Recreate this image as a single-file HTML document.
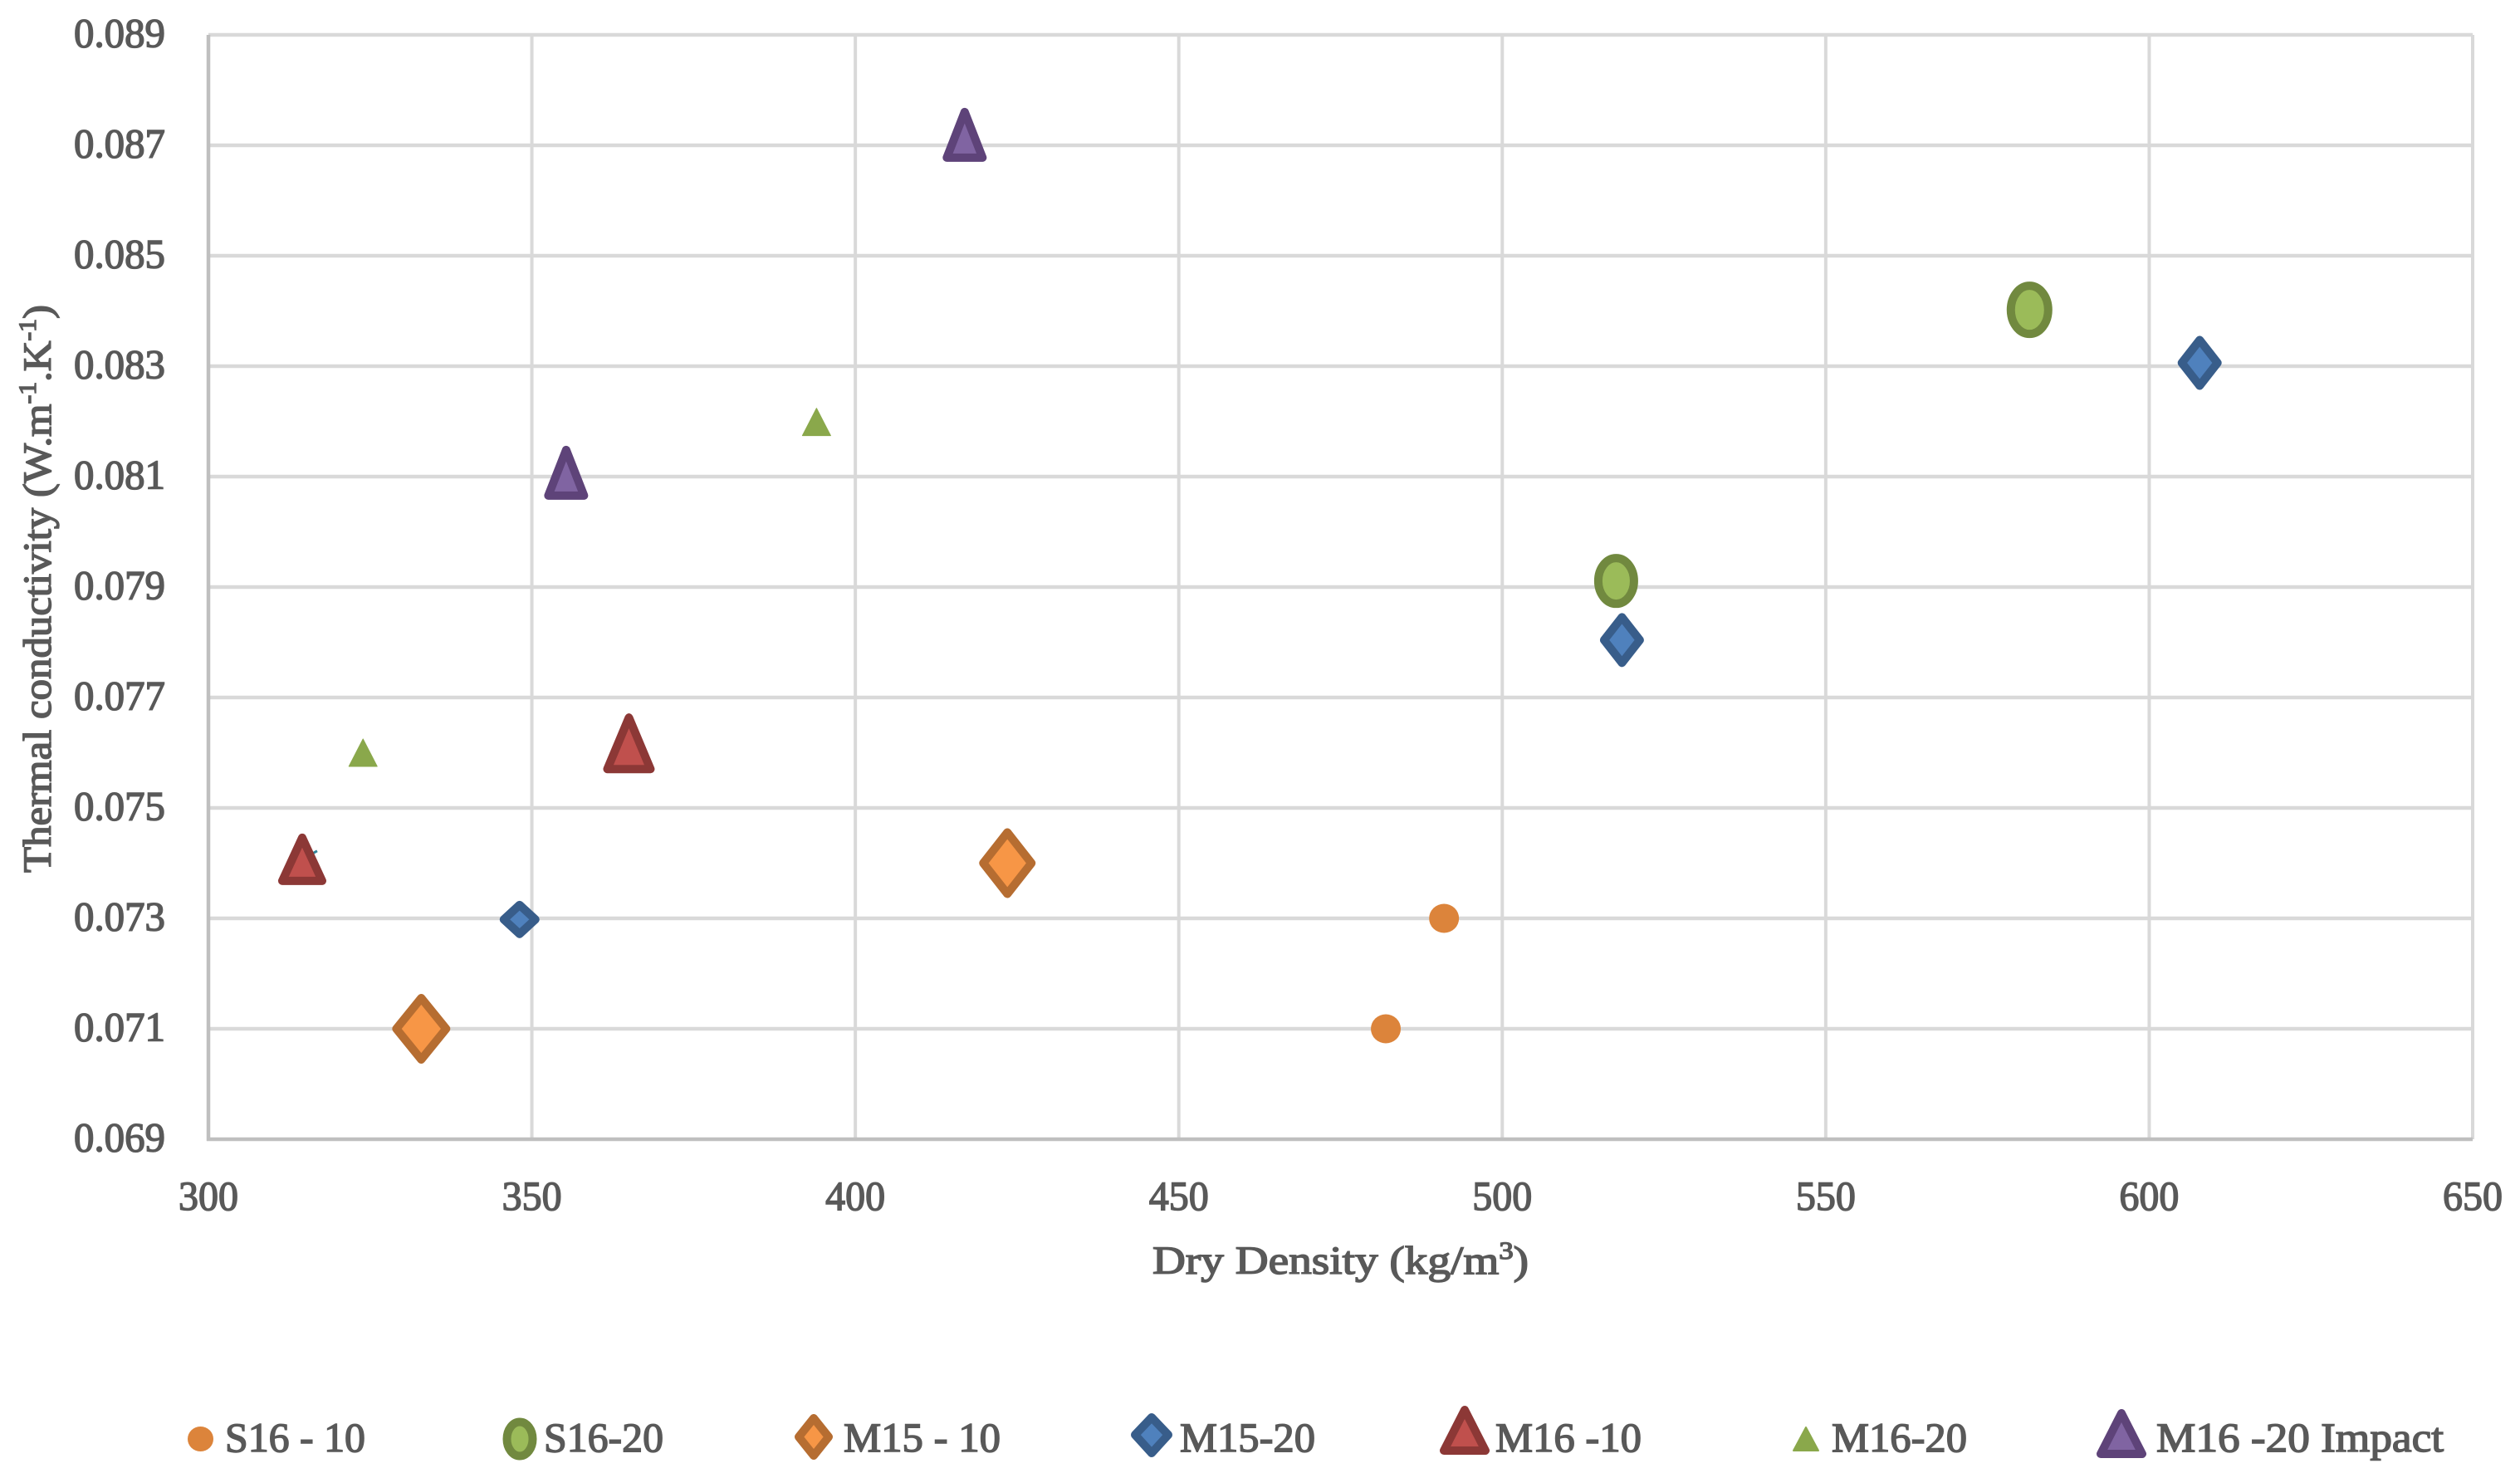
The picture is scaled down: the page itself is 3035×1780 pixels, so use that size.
<!DOCTYPE html>
<html lang="en">
<head>
<meta charset="utf-8">
<title>Thermal conductivity vs dry density</title>
<style>
html,body{margin:0;padding:0;background:#fff;width:3035px;height:1780px;overflow:hidden}
svg{display:block}
text{font-family:"Liberation Serif","DejaVu Serif",serif;fill:#595959;stroke:#595959;stroke-width:1.5px}
</style>
</head>
<body>
<svg id="chart" xmlns="http://www.w3.org/2000/svg" width="3035" height="1780" viewBox="0 0 3035 1780">
  <rect x="0" y="0" width="3035" height="1780" fill="#ffffff"/>
  <g id="grid"></g>
  <g id="axes"></g>
  <g id="ticks"></g>
  <text x="1388" y="1534" font-size="48" textLength="453" lengthAdjust="spacingAndGlyphs">Dry Density (kg/m<tspan font-size="30" dy="-18">3</tspan><tspan dy="18">)</tspan></text>
  <text transform="translate(61 1051) rotate(-90)" x="0" y="0" font-size="48" textLength="684" lengthAdjust="spacingAndGlyphs">Thermal conductivity (W.m<tspan font-size="30" dy="-18">-1</tspan><tspan dy="18">.K</tspan><tspan font-size="30" dy="-18">-1</tspan><tspan dy="18">)</tspan></text>
  <g id="marks"></g>
  <g id="legend">
    <text x="271" y="1748" font-size="50" textLength="169" lengthAdjust="spacingAndGlyphs">S16 - 10</text>
    <text x="655" y="1748" font-size="50" textLength="144" lengthAdjust="spacingAndGlyphs">S16-20</text>
    <text x="1016" y="1748" font-size="50" textLength="189" lengthAdjust="spacingAndGlyphs">M15 - 10</text>
    <text x="1421" y="1748" font-size="50" textLength="163" lengthAdjust="spacingAndGlyphs">M15-20</text>
    <text x="1801" y="1748" font-size="50" textLength="176" lengthAdjust="spacingAndGlyphs">M16 -10</text>
    <text x="2206" y="1748" font-size="50" textLength="163" lengthAdjust="spacingAndGlyphs">M16-20</text>
    <text x="2597" y="1748" font-size="50" textLength="346" lengthAdjust="spacingAndGlyphs">M16 -20 Impact</text>
    <ellipse cx="241.5" cy="1733" rx="15.5" ry="15" fill="#dc843b"/>
    <ellipse cx="626" cy="1733" rx="15.5" ry="20.5" fill="#9bbb59" stroke="#71893f" stroke-width="10"/>
    <polygon points="980,1708 998,1730.5 980,1753 962,1730.5" fill="#f79646" stroke="#b66d31" stroke-width="10" stroke-linejoin="round"/>
    <polygon points="1387,1707 1407,1728 1387,1750 1367,1728" fill="#4f81bd" stroke="#385d8a" stroke-width="10" stroke-linejoin="round"/>
    <polygon points="1764,1698 1789,1747 1739,1747" fill="#c0504d" stroke="#8c3836" stroke-width="10" stroke-linejoin="round"/>
    <polygon points="2175,1719 2190,1747 2160,1747" fill="#8aa84b" stroke="#8aa84b" stroke-width="2" stroke-linejoin="round"/>
    <polygon points="2555,1702 2580,1751 2530,1751" fill="#8064a2" stroke="#5e4379" stroke-width="10" stroke-linejoin="round"/>
  </g>
</svg>
<script>
// Axis tick values
const xTickValues = [300, 350, 400, 450, 500, 550, 600, 650];
const yTickValues = [0.069, 0.071, 0.073, 0.075, 0.077, 0.079, 0.081, 0.083, 0.085, 0.087, 0.089];

// Series values: dry density (kg/m3) and thermal conductivity (W/m/K)
const s1610Density = [482, 491];
const s1610Conductivity = [0.071, 0.073];
const s1620Density = [517.6, 581.5];
const s1620Conductivity = [0.07911, 0.08402];
const m1510Density = [332.9, 423.5];
const m1510Conductivity = [0.071, 0.074];
const m1520Density = [348.1, 518.5, 607.8];
const m1520Conductivity = [0.07298, 0.07804, 0.08306];
const m1610Density = [314.5, 365];
const m1610Conductivity = [0.07407, 0.07617];
const m1620Density = [323.9, 394];
const m1620Conductivity = [0.076, 0.08199];
const m1620ImpactDensity = [355.3, 416.9];
const m1620ImpactConductivity = [0.08107, 0.08719];

const SVGNS = 'http://www.w3.org/2000/svg';
const plotLeft = 251, plotRight = 2978, plotTop = 42, plotBottom = 1372;
const xMin = 300, xMax = 650, yMin = 0.069, yMax = 0.089;

function xScale(v) { return plotLeft + (v - xMin) / (xMax - xMin) * (plotRight - plotLeft); }
function yScale(v) { return plotBottom - (v - yMin) / (yMax - yMin) * (plotBottom - plotTop); }

function create(tag, parent, attrs) {
  const n = document.createElementNS(SVGNS, tag);
  Object.keys(attrs).forEach(function (k) { n.setAttribute(k, attrs[k]); });
  parent.appendChild(n);
  return n;
}

const gridGroup = document.getElementById('grid');
const axesGroup = document.getElementById('axes');
const tickGroup = document.getElementById('ticks');
const marksGroup = document.getElementById('marks');

xTickValues.forEach(function (v) {
  if (v !== xMin) {
    const line = create('line', gridGroup, { x1: xScale(v), x2: xScale(v), y1: plotTop, y2: plotBottom, stroke: '#d9d9d9', 'stroke-width': 4 });
    
    
  }
  const label = create('text', tickGroup, { x: xScale(v), y: plotBottom + 85, 'font-size': 50, 'text-anchor': 'middle', textLength: 72, lengthAdjust: 'spacingAndGlyphs' });
  label.textContent = String(v);
  
  
});

yTickValues.forEach(function (v) {
  if (v !== yMin) {
    const line = create('line', gridGroup, { x1: plotLeft, x2: plotRight, y1: yScale(v), y2: yScale(v), stroke: '#d9d9d9', 'stroke-width': 4.5 });
    
    
  }
  const label = create('text', tickGroup, { x: 199, y: yScale(v) + 14.5, 'font-size': 50, 'text-anchor': 'end', textLength: 110, lengthAdjust: 'spacingAndGlyphs' });
  label.textContent = v.toFixed(3);
  
  
});

const yAxisLine = create('line', axesGroup, { x1: plotLeft, x2: plotLeft, y1: plotTop, y2: plotBottom + 2, stroke: '#bfbfbf', 'stroke-width': 4.5 });


const xAxisLine = create('line', axesGroup, { x1: plotLeft - 2, x2: plotRight, y1: plotBottom, y2: plotBottom, stroke: '#bfbfbf', 'stroke-width': 4.5 });



function drawMarker(shape, cx, cy, w, h, sw, fill, stroke) {
  const hw = w / 2 - sw / 2, hh = h / 2 - sw / 2;
  const common = { fill: fill, stroke: stroke, 'stroke-width': sw, 'stroke-linejoin': 'round' };
  if (shape === 'circle') {
    const c = create('ellipse', marksGroup, Object.assign({ cx: cx, cy: cy, rx: hw, ry: hh }, common));
    return c;
  }
  let pts;
  if (shape === 'diamond') {
    pts = [[cx, cy - hh], [cx + hw, cy], [cx, cy + hh], [cx - hw, cy]];
  } else {
    pts = [[cx, cy - hh], [cx + hw, cy + hh], [cx - hw, cy + hh]];
  }
  return create('polygon', marksGroup, Object.assign({ points: pts.map(function (p) { return p.join(','); }).join(' ') }, common));
}

function drawSeries(name, xs, ys, shape, sizes, sw, fill, stroke) {
  xs.forEach(function (x, i) {
    const size = sizes[i % sizes.length];
    const mark = drawMarker(shape, xScale(x), yScale(ys[i]), size[0], size[1], sw, fill, stroke);
    
    
  });
}

drawSeries('s16-10', s1610Density, s1610Conductivity, 'circle', [[36, 35]], 0, '#dc843b', 'none');
drawSeries('s16-20', s1620Density, s1620Conductivity, 'circle', [[53, 65], [55, 68]], 10, '#9bbb59', '#71893f');
drawSeries('m15-10', m1510Density, m1510Conductivity, 'diamond', [[70, 84], [68, 84]], 10, '#f79646', '#b66d31');
drawSeries('m15-20', m1520Density, m1520Conductivity, 'diamond', [[48, 45], [53, 65], [53, 65]], 10, '#4f81bd', '#385d8a');
// Hidden teal mark peeking out from behind the first M16-10 triangle
const teal = create('line', marksGroup, { x1: xScale(m1610Density[0]), y1: yScale(m1610Conductivity[0]), x2: xScale(m1610Density[0]) + 18, y2: yScale(m1610Conductivity[0]) - 10, stroke: '#31859b', 'stroke-width': 3 });


drawSeries('m16-10', m1610Density, m1610Conductivity, 'triangle', [[58, 62], [62, 72]], 10, '#c0504d', '#8c3836');
drawSeries('m16-20', m1620Density, m1620Conductivity, 'triangle', [[35, 34]], 1, '#8aa84b', '#8aa84b');
drawSeries('m16-20-impact', m1620ImpactDensity, m1620ImpactConductivity, 'triangle', [[53, 65]], 10, '#8064a2', '#5e4379');
</script>
</body>
</html>
